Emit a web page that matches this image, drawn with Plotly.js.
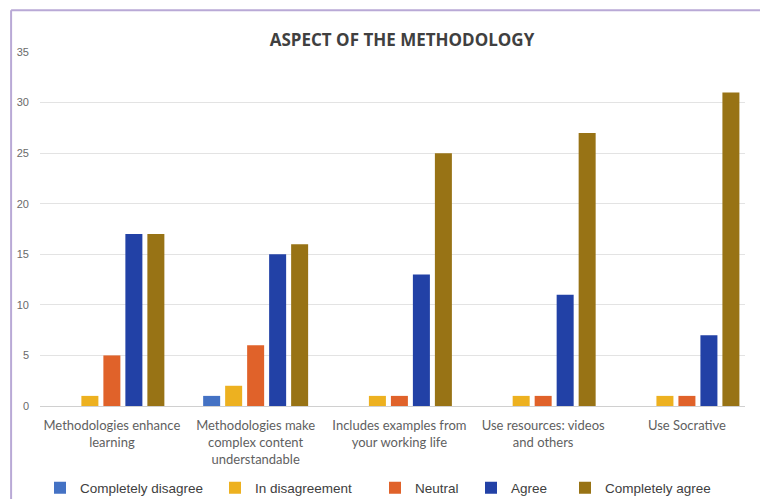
<!DOCTYPE html>
<html>
<head>
<meta charset="utf-8">
<script src="https://cdn.plot.ly/plotly-3.0.1.min.js"></script>
<style>html,body{margin:0;padding:0;background:#fff;}#chart{width:760px;height:499px;}</style>
</head>
<body>
<div id="chart"></div>
<script>
const categories = [
  "Methodologies enhance<br>learning",
  "Methodologies make<br>complex content<br>understandable",
  "Includes examples from<br>your working life",
  "Use resources: videos<br>and others",
  "Use Socrative"
];
const seriesNames = ["Completely disagree", "In disagreement", "Neutral", "Agree", "Completely agree"];
const completelyDisagree = [0, 1, 0, 0, 0];
const inDisagreement = [1, 2, 1, 1, 1];
const neutral = [5, 6, 1, 1, 1];
const agree = [17, 15, 13, 11, 7];
const completelyAgree = [17, 16, 25, 27, 31];
const yTicks = [0, 5, 10, 15, 20, 25, 30, 35];

const values = [completelyDisagree, inDisagreement, neutral, agree, completelyAgree];
const colors = ["#4472C4", "#EDB120", "#E0622A", "#2241A6", "#987315"];
const legendIds = ["legend", "legend2", "legend3", "legend4", "legend5"];
// text start positions (px) of each legend entry
const legendTextX = [85, 260, 420, 516, 610];

const data = values.map((v, i) => ({
  type: "bar",
  name: seriesNames[i],
  x: categories,
  y: v,
  marker: {color: colors[i]},
  legend: legendIds[i],
  hoverinfo: "y"
}));

const layout = {
  width: 760,
  height: 499,
  margin: {l: 40, r: 15, t: 52, b: 93},
  paper_bgcolor: "#ffffff",
  plot_bgcolor: "#ffffff",
  barmode: "group",
  bargap: 0.235,
  bargroupgap: 0.227,
  title: {
    text: "<b>ASPECT OF THE METHODOLOGY</b>",
    font: {family: "Open Sans, Liberation Sans, sans-serif", size: 17, color: "#404040"},
    x: 402 / 760, xref: "container", xanchor: "center",
    y: 1 - 40 / 499, yref: "container", yanchor: "middle"
  },
  xaxis: {
    type: "category",
    range: [-0.5, 4.404],
    tickfont: {family: "Lato, Liberation Sans, sans-serif", size: 13, color: "#5f5f5f"},
    showline: false,
    ticks: "",
    showgrid: false,
    ticklabelstandoff: 10
  },
  yaxis: {
    range: [0, 35],
    tickvals: yTicks,
    ticktext: yTicks.map(String),
    tickfont: {family: "Liberation Sans, Arial, sans-serif", size: 11, color: "#6a6a6a"},
    gridcolor: "#E3E3E3",
    gridwidth: 1,
    zeroline: true,
    zerolinecolor: "#D0D0D0",
    zerolinewidth: 1,
    showline: false,
    ticks: "",
    ticklabelstandoff: 10
  },
  shapes: [
    {type: "line", xref: "paper", yref: "paper", x0: -0.041, x1: -0.041, y0: 1.118, y1: -0.3, line: {color: "#B9A9D6", width: 2}},
    {type: "line", xref: "paper", yref: "paper", x0: -0.041, x1: 1.03, y0: 1.118, y1: 1.118, line: {color: "#B9A9D6", width: 2}}
  ],
  showlegend: true
};

legendIds.forEach((id, i) => {
  layout[id] = {
    orientation: "h",
    xref: "container", yref: "container",
    x: (legendTextX[i] - 45) / 760, xanchor: "left",
    y: 1 - 488 / 499, yanchor: "middle",
    font: {family: "Liberation Sans, Arial, sans-serif", size: 13.5, color: "#404040"},
    bgcolor: "rgba(0,0,0,0)",
    itemwidth: 30
  };
});

Plotly.newPlot("chart", data, layout, {displayModeBar: false, staticPlot: true});
</script>
</body>
</html>
